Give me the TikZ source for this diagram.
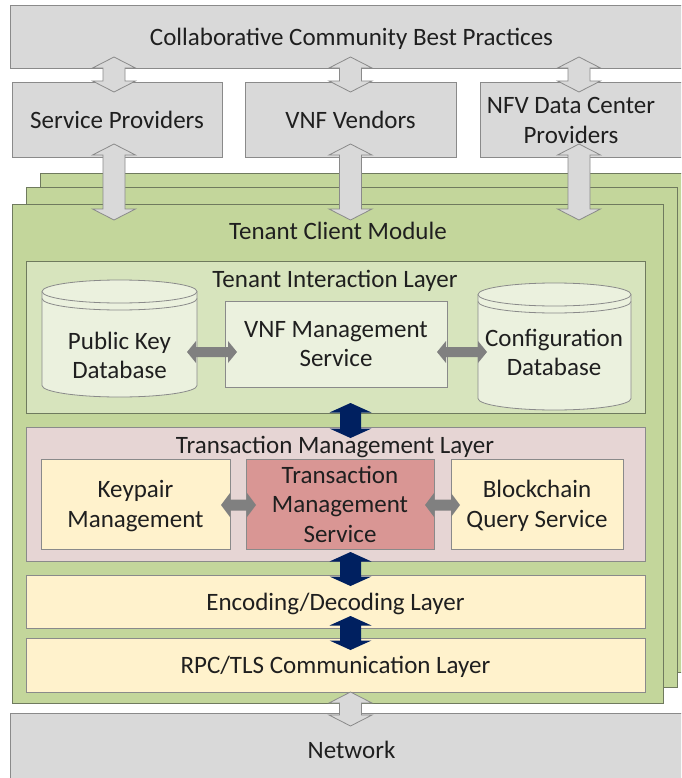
\documentclass[tikz,border=0pt]{standalone}
\usepackage{fontspec}
\setmainfont{Carlito}
\usetikzlibrary{calc}
\definecolor{boxgray}{HTML}{D9D9D9}
\definecolor{linegray}{HTML}{8A8A8A}
\definecolor{modgreen}{HTML}{C3D69B}
\definecolor{modline}{HTML}{6F7A5E}
\definecolor{tilgreen}{HTML}{D7E4BD}
\definecolor{palegreen}{HTML}{EBF1DE}
\definecolor{tmlpink}{HTML}{E6D5D4}
\definecolor{paleyellow}{HTML}{FFF2CC}
\definecolor{tmsred}{HTML}{D99694}
\definecolor{navyblue}{HTML}{002060}
\definecolor{arrgray}{HTML}{808080}
\newcommand\vdarrow[6]{%
 \path[#1] let \p1=(#2), \p2=(#3) in (\x1,\y1) -- (\x1+#5,\y1-#6) -- (\x1+#4,\y1-#6) -- (\x1+#4,\y2+#6) -- (\x1+#5,\y2+#6) -- (\x2,\y2) -- (\x1-#5,\y2+#6) -- (\x1-#4,\y2+#6) -- (\x1-#4,\y1-#6) -- (\x1-#5,\y1-#6) -- cycle;}
\newcommand\hdarrow[6]{%
 \path[#1] let \p1=(#2), \p2=(#3) in (\x1,\y1) -- (\x1+#6,\y1+#5) -- (\x1+#6,\y1+#4) -- (\x2-#6,\y1+#4) -- (\x2-#6,\y1+#5) -- (\x2,\y1) -- (\x2-#6,\y1-#5) -- (\x2-#6,\y1-#4) -- (\x1+#6,\y1-#4) -- (\x1+#6,\y1-#5) -- cycle;}
\tikzset{
 every node/.style={font=\fontsize{25}{29.5}\selectfont, text=black!88, inner sep=0pt, align=center, text depth=0pt},
 graybox/.style={draw=linegray, fill=boxgray, line width=0.8pt},
 modbox/.style={draw=modline, fill=modgreen, line width=0.8pt},
 tilbox/.style={draw=modline, fill=tilgreen, line width=0.8pt},
 palebox/.style={draw=linegray, fill=palegreen, line width=0.8pt},
 tmlbox/.style={draw=linegray, fill=tmlpink, line width=0.8pt},
 yelbox/.style={draw=linegray, fill=paleyellow, line width=0.8pt},
 redbox/.style={draw=linegray, fill=tmsred, line width=0.8pt},
 hollowarrow/.style={draw=linegray, fill=boxgray, line width=0.8pt},
 navyarrow/.style={fill=navyblue},
 grayarrow/.style={fill=arrgray},
 cylshape/.style={draw=linegray, fill=palegreen, line width=0.8pt},
}
\begin{document}
\begin{tikzpicture}[x=1pt,y=-1pt]
\clip (0,0) rectangle (681,778);
\fill[white] (0,0) rectangle (681,778);
% top row
\node[graybox, minimum width=683pt, minimum height=63pt] (cc) at (351.5,36.5) {Collaborative Community Best Practices};
\node[graybox, minimum width=210pt, minimum height=75pt] (sp) at (117,119.5) {Service Providers};
\node[graybox, minimum width=211pt, minimum height=75pt] (vv) at (350.5,119.5) {VNF Vendors};
\node[graybox, minimum width=213pt, minimum height=75pt] (nfv) at (586.5,119.5) {};
\node (nfvt) at (571,120.5) {NFV Data Center\\Providers};
\coordinate (h1t) at (114,57);  \coordinate (h1b) at (114,92);
\coordinate (h2t) at (350.5,57); \coordinate (h2b) at (350.5,92);
\coordinate (h3t) at (579,57);  \coordinate (h3b) at (579,92);
\vdarrow{hollowarrow}{h1t}{h1b}{11pt}{21.5pt}{11pt}
\vdarrow{hollowarrow}{h2t}{h2b}{11pt}{21.5pt}{11pt}
\vdarrow{hollowarrow}{h3t}{h3b}{11pt}{21.5pt}{11pt}
% module stack
\node[modbox, minimum width=651pt, minimum height=499pt] (mod3) at (365.5,422.5) {};
\node[modbox, minimum width=651pt, minimum height=500pt] (mod2) at (351.5,437) {};
\node[modbox, minimum width=651pt, minimum height=499pt] (mod) at (337.5,453.5) {};
\node (modt) at (338,231) {Tenant Client Module};
\coordinate (h4t) at (114,144);  \coordinate (h4b) at (114,220);
\coordinate (h5t) at (350.5,144); \coordinate (h5b) at (350.5,220);
\coordinate (h6t) at (579,144);  \coordinate (h6b) at (579,220);
\vdarrow{hollowarrow}{h4t}{h4b}{11pt}{21.5pt}{11pt}
\vdarrow{hollowarrow}{h5t}{h5b}{11pt}{21.5pt}{11pt}
\vdarrow{hollowarrow}{h6t}{h6b}{11pt}{21.5pt}{11pt}
% tenant interaction layer
\node[tilbox, minimum width=619pt, minimum height=152pt] (til) at (335.5,337) {};
\node (tilt) at (335,279) {Tenant Interaction Layer};
\filldraw[cylshape] (42,291.5) -- (42,385.5) arc[start angle=180, end angle=360, x radius=77.5pt, y radius=11.5pt] -- (197,291.5) arc[start angle=0, end angle=180, x radius=77.5pt, y radius=11.5pt] -- cycle;
\draw[cylshape, fill=none] (42,291.5) arc[start angle=180, end angle=360, x radius=77.5pt, y radius=11.5pt];
\draw[cylshape, fill=none] (42,298.5) arc[start angle=180, end angle=360, x radius=77.5pt, y radius=11.5pt];
\node (pkd) at (119.5,355.5) {Public Key\\Database};
\filldraw[cylshape] (478,294.5) -- (478,398.5) arc[start angle=180, end angle=360, x radius=76.5pt, y radius=11.5pt] -- (631,294.5) arc[start angle=0, end angle=180, x radius=76.5pt, y radius=11.5pt] -- cycle;
\draw[cylshape, fill=none] (478,294.5) arc[start angle=180, end angle=360, x radius=76.5pt, y radius=11.5pt];
\draw[cylshape, fill=none] (478,301.5) arc[start angle=180, end angle=360, x radius=76.5pt, y radius=11.5pt];
\node (cfg) at (554,352.5) {Configuration\\Database};
\node[palebox, minimum width=222pt, minimum height=86pt] (vnfm) at (336,344) {VNF Management\\Service};
\coordinate (g1l) at (187,352); \coordinate (g1r) at (237,352);
\coordinate (g2l) at (437,352); \coordinate (g2r) at (487,352);
\hdarrow{grayarrow}{g1l}{g1r}{5pt}{11pt}{9pt}
\hdarrow{grayarrow}{g2l}{g2r}{5pt}{11pt}{9pt}
% transaction management layer
\node[tmlbox, minimum width=619pt, minimum height=134pt] (tml) at (335.5,494) {};
\node (tmlt) at (335,445) {Transaction Management Layer};
\node[yelbox, minimum width=189pt, minimum height=90pt] (kp) at (135.5,504) {Keypair\\Management};
\node[redbox, minimum width=188pt, minimum height=90pt] (tms) at (340,504) {Transaction\\Management\\Service};
\node[yelbox, minimum width=172pt, minimum height=90pt] (bqs) at (537,504) {Blockchain\\Query Service};
\coordinate (g3l) at (221,505); \coordinate (g3r) at (256,505);
\coordinate (g4l) at (425,505); \coordinate (g4r) at (460,505);
\hdarrow{grayarrow}{g3l}{g3r}{5.5pt}{12pt}{9pt}
\hdarrow{grayarrow}{g4l}{g4r}{5.5pt}{12pt}{9pt}
% lower layers
\node[yelbox, minimum width=619pt, minimum height=53pt] (enc) at (335.5,601.5) {Encoding/Decoding Layer};
\node[yelbox, minimum width=619pt, minimum height=54pt] (rpc) at (335.5,665) {RPC/TLS Communication Layer};
\coordinate (b1t) at (350.5,403); \coordinate (b1b) at (350.5,438);
\coordinate (b2t) at (350.5,552); \coordinate (b2b) at (350.5,586);
\coordinate (b3t) at (350.5,616); \coordinate (b3b) at (350.5,650);
\vdarrow{navyarrow}{b1t}{b1b}{10.5pt}{21pt}{9.5pt}
\vdarrow{navyarrow}{b2t}{b2b}{10.5pt}{21pt}{9.5pt}
\vdarrow{navyarrow}{b3t}{b3b}{10.5pt}{21pt}{9.5pt}
% network
\node[graybox, minimum width=683pt, minimum height=77pt, text height=13.5pt] (net) at (351.5,751.5) {Network};
\coordinate (h7t) at (350.5,692); \coordinate (h7b) at (350.5,726);
\vdarrow{hollowarrow}{h7t}{h7b}{11pt}{21.5pt}{11pt}
\end{tikzpicture}
\end{document}
